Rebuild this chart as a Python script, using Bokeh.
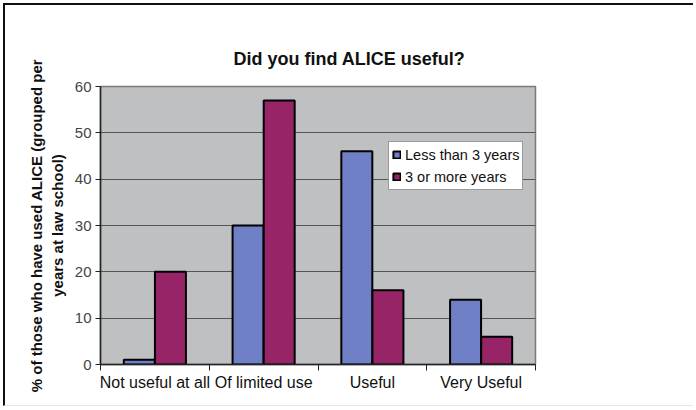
from bokeh.plotting import figure
from bokeh.models import FixedTicker, Legend, LegendItem, ColumnDataSource, Range1d
from bokeh.embed import file_html
from bokeh.resources import INLINE
import numpy as np

categories = ["Not useful at all", "Of limited use", "Useful", "Very Useful"]
series_names = ["Less than 3 years", "3 or more years"]
less_than_3 = [1, 30, 46, 14]
three_or_more = [20, 57, 16, 6]
series_colors = ["#6F80C6", "#972466"]
y_ticks = [0, 10, 20, 30, 40, 50, 60]

centers = np.arange(len(categories)) + 0.5
bw = 0.285
off = 0.143

p = figure(width=690, height=403, output_backend="svg", toolbar_location=None,
           x_range=Range1d(0, len(categories)), y_range=Range1d(0, 60),
           min_border_left=95, min_border_right=160, min_border_top=81,
           min_border_bottom=44)
p.styles = {"border-left": "2px solid #111", "border-top": "2px solid #111",
            "border-bottom": "1px solid #e6e6e6", "margin-left": "3px", "margin-top": "3px"}

p.background_fill_color = "#BEC0C2"
p.border_fill_color = "white"
p.outline_line_color = "#7a7a7a"
p.outline_line_width = 1.5

src = ColumnDataSource(dict(x1=centers - off, x2=centers + off, a=less_than_3, b=three_or_more))
r1 = p.vbar(x="x1", top="a", width=bw, source=src, fill_color=series_colors[0],
            line_color="black", line_width=2)
r2 = p.vbar(x="x2", top="b", width=bw, source=src, fill_color=series_colors[1],
            line_color="black", line_width=2)

# grid
p.xgrid.grid_line_color = None
p.ygrid.ticker = FixedTicker(ticks=y_ticks)
p.ygrid.grid_line_color = "#555555"
p.ygrid.grid_line_width = 1.2

# y axis
p.yaxis.ticker = FixedTicker(ticks=y_ticks)
p.yaxis.axis_label = "% of those who have used ALICE (grouped per\nyears at law school)"
p.yaxis.axis_label_text_font = "Liberation Sans"
p.yaxis.axis_label_text_font_style = "bold"
p.yaxis.axis_label_text_font_size = "15px"
p.yaxis.axis_label_text_color = "#111111"
p.yaxis.axis_label_standoff = 6
p.yaxis.major_label_text_font = "Liberation Sans"
p.yaxis.major_label_text_font_size = "15px"
p.yaxis.major_label_text_color = "#444444"
p.yaxis.major_tick_in = 0
p.yaxis.major_tick_out = 5
p.yaxis.minor_tick_line_color = None
p.yaxis.axis_line_color = "#222222"
p.yaxis.axis_line_width = 1.5
p.yaxis.major_tick_line_color = "#222222"
p.yaxis.major_label_standoff = 4

# x axis: labels at centers, ticks at boundaries
p.xaxis.ticker = FixedTicker(ticks=list(centers), minor_ticks=list(range(len(categories) + 1)))
p.xaxis.major_label_overrides = {float(c): lab for c, lab in zip(centers, categories)}
p.xaxis.major_tick_line_color = None
p.xaxis.major_tick_out = 0
p.xaxis.major_tick_in = 0
p.xaxis.minor_tick_out = 6
p.xaxis.minor_tick_in = 0
p.xaxis.minor_tick_line_color = "#222222"
p.xaxis.axis_line_color = "#222222"
p.xaxis.axis_line_width = 1.5
p.xaxis.major_label_text_font = "Liberation Sans"
p.xaxis.major_label_text_font_size = "16px"
p.xaxis.major_label_text_color = "#111111"
p.xaxis.major_label_standoff = 3

# title
p.title.text = "Did you find ALICE useful?"
p.title.align = "left"
p.title.offset = 133
p.title.text_font = "Liberation Sans"
p.title.text_font_size = "18px"
p.title.text_font_style = "bold"
p.title.text_color = "#111111"
p.title.standoff = 35

legend = Legend(items=[LegendItem(label=series_names[0], renderers=[r1]),
                       LegendItem(label=series_names[1], renderers=[r2])],
                location=(288, 174), orientation="vertical",
                glyph_width=9, glyph_height=9, label_standoff=4,
                label_height=19, spacing=3, padding=3, margin=0,
                label_text_font="Liberation Sans", label_text_font_size="14.5px",
                label_text_color="#111111",
                border_line_color="#333333", border_line_width=1,
                background_fill_color="white", background_fill_alpha=1)
p.add_layout(legend)

open("out.html", "w").write(file_html(p, INLINE))
